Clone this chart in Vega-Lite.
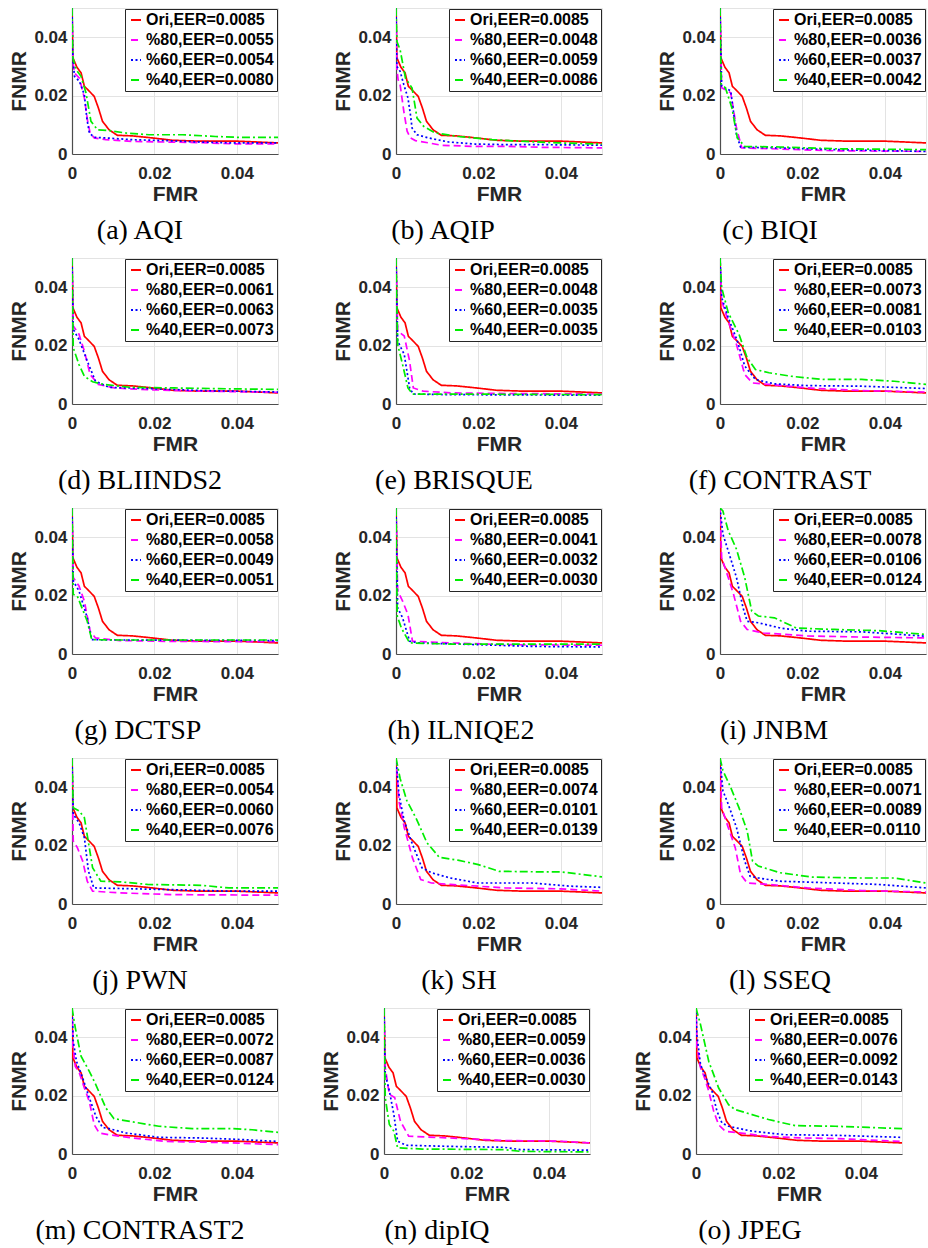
{"$schema":"https://vega.github.io/schema/vega-lite/v6.json","padding":{"left":8,"top":7,"right":2,"bottom":2},"background":"white",
"data":{"values":[
{"p":"all","s":"Ori,EER=0.0085","x":0,"y":0.05},{"p":"all","s":"Ori,EER=0.0085","x":0.0002,"y":0.033},{"p":"all","s":"Ori,EER=0.0085","x":0.0012,"y":0.0297},{"p":"all","s":"Ori,EER=0.0085","x":0.0022,"y":0.0278},{"p":"all","s":"Ori,EER=0.0085","x":0.003,"y":0.0232},{"p":"all","s":"Ori,EER=0.0085","x":0.0042,"y":0.0215},{"p":"all","s":"Ori,EER=0.0085","x":0.0054,"y":0.0197},{"p":"all","s":"Ori,EER=0.0085","x":0.0064,"y":0.0158},{"p":"all","s":"Ori,EER=0.0085","x":0.0074,"y":0.0112},{"p":"all","s":"Ori,EER=0.0085","x":0.009,"y":0.0083},{"p":"all","s":"Ori,EER=0.0085","x":0.011,"y":0.0064},{"p":"all","s":"Ori,EER=0.0085","x":0.0147,"y":0.0062},{"p":"all","s":"Ori,EER=0.0085","x":0.0195,"y":0.0055},{"p":"all","s":"Ori,EER=0.0085","x":0.0244,"y":0.0047},{"p":"all","s":"Ori,EER=0.0085","x":0.0308,"y":0.0044},{"p":"all","s":"Ori,EER=0.0085","x":0.04,"y":0.0044},{"p":"all","s":"Ori,EER=0.0085","x":0.05,"y":0.0038},

{"p":"a","s":"%80,EER=0.0055","x":0,"y":0.05},{"p":"a","s":"%80,EER=0.0055","x":0.0002,"y":0.0317},{"p":"a","s":"%80,EER=0.0055","x":0.0006,"y":0.0277},{"p":"a","s":"%80,EER=0.0055","x":0.0018,"y":0.026},{"p":"a","s":"%80,EER=0.0055","x":0.003,"y":0.0192},{"p":"a","s":"%80,EER=0.0055","x":0.0038,"y":0.0112},{"p":"a","s":"%80,EER=0.0055","x":0.0044,"y":0.0072},{"p":"a","s":"%80,EER=0.0055","x":0.0054,"y":0.0055},{"p":"a","s":"%80,EER=0.0055","x":0.0082,"y":0.0049},{"p":"a","s":"%80,EER=0.0055","x":0.0147,"y":0.0043},{"p":"a","s":"%80,EER=0.0055","x":0.0227,"y":0.0041},{"p":"a","s":"%80,EER=0.0055","x":0.031,"y":0.0039},{"p":"a","s":"%80,EER=0.0055","x":0.039,"y":0.0035},{"p":"a","s":"%80,EER=0.0055","x":0.05,"y":0.0035},
{"p":"a","s":"%60,EER=0.0054","x":0,"y":0.05},{"p":"a","s":"%60,EER=0.0054","x":0.0002,"y":0.033},{"p":"a","s":"%60,EER=0.0054","x":0.0006,"y":0.0266},{"p":"a","s":"%60,EER=0.0054","x":0.0018,"y":0.0249},{"p":"a","s":"%60,EER=0.0054","x":0.003,"y":0.0203},{"p":"a","s":"%60,EER=0.0054","x":0.0036,"y":0.0123},{"p":"a","s":"%60,EER=0.0054","x":0.0042,"y":0.0072},{"p":"a","s":"%60,EER=0.0054","x":0.0054,"y":0.0057},{"p":"a","s":"%60,EER=0.0054","x":0.0082,"y":0.0055},{"p":"a","s":"%60,EER=0.0054","x":0.0147,"y":0.0049},{"p":"a","s":"%60,EER=0.0054","x":0.0227,"y":0.0046},{"p":"a","s":"%60,EER=0.0054","x":0.031,"y":0.0041},{"p":"a","s":"%60,EER=0.0054","x":0.039,"y":0.0038},{"p":"a","s":"%60,EER=0.0054","x":0.05,"y":0.0038},
{"p":"a","s":"%40,EER=0.0080","x":0,"y":0.05},{"p":"a","s":"%40,EER=0.0080","x":0.0002,"y":0.033},{"p":"a","s":"%40,EER=0.0080","x":0.001,"y":0.0289},{"p":"a","s":"%40,EER=0.0080","x":0.0022,"y":0.0266},{"p":"a","s":"%40,EER=0.0080","x":0.0034,"y":0.0209},{"p":"a","s":"%40,EER=0.0080","x":0.0046,"y":0.0112},{"p":"a","s":"%40,EER=0.0080","x":0.0062,"y":0.0083},{"p":"a","s":"%40,EER=0.0080","x":0.009,"y":0.008},{"p":"a","s":"%40,EER=0.0080","x":0.013,"y":0.0072},{"p":"a","s":"%40,EER=0.0080","x":0.0187,"y":0.0066},{"p":"a","s":"%40,EER=0.0080","x":0.0268,"y":0.0066},{"p":"a","s":"%40,EER=0.0080","x":0.0348,"y":0.006},{"p":"a","s":"%40,EER=0.0080","x":0.0405,"y":0.0057},{"p":"a","s":"%40,EER=0.0080","x":0.05,"y":0.0057},

{"p":"b","s":"%80,EER=0.0048","x":0,"y":0.05},{"p":"b","s":"%80,EER=0.0048","x":0.0002,"y":0.0295},{"p":"b","s":"%80,EER=0.0048","x":0.0005,"y":0.0255},{"p":"b","s":"%80,EER=0.0048","x":0.001,"y":0.0237},{"p":"b","s":"%80,EER=0.0048","x":0.0019,"y":0.0146},{"p":"b","s":"%80,EER=0.0048","x":0.0027,"y":0.0078},{"p":"b","s":"%80,EER=0.0048","x":0.0035,"y":0.0055},{"p":"b","s":"%80,EER=0.0048","x":0.0047,"y":0.0046},{"p":"b","s":"%80,EER=0.0048","x":0.0079,"y":0.0038},{"p":"b","s":"%80,EER=0.0048","x":0.011,"y":0.003},{"p":"b","s":"%80,EER=0.0048","x":0.019,"y":0.0026},{"p":"b","s":"%80,EER=0.0048","x":0.0273,"y":0.0026},{"p":"b","s":"%80,EER=0.0048","x":0.0354,"y":0.0023},{"p":"b","s":"%80,EER=0.0048","x":0.05,"y":0.0021},
{"p":"b","s":"%60,EER=0.0059","x":0,"y":0.05},{"p":"b","s":"%60,EER=0.0059","x":0.0002,"y":0.03},{"p":"b","s":"%60,EER=0.0059","x":0.001,"y":0.0283},{"p":"b","s":"%60,EER=0.0059","x":0.0019,"y":0.0237},{"p":"b","s":"%60,EER=0.0059","x":0.0029,"y":0.0192},{"p":"b","s":"%60,EER=0.0059","x":0.0035,"y":0.0135},{"p":"b","s":"%60,EER=0.0059","x":0.0039,"y":0.0089},{"p":"b","s":"%60,EER=0.0059","x":0.0051,"y":0.0066},{"p":"b","s":"%60,EER=0.0059","x":0.0079,"y":0.0055},{"p":"b","s":"%60,EER=0.0059","x":0.0128,"y":0.0041},{"p":"b","s":"%60,EER=0.0059","x":0.0193,"y":0.0034},{"p":"b","s":"%60,EER=0.0059","x":0.0273,"y":0.0032},{"p":"b","s":"%60,EER=0.0059","x":0.0354,"y":0.0032},{"p":"b","s":"%60,EER=0.0059","x":0.05,"y":0.003},
{"p":"b","s":"%40,EER=0.0086","x":0,"y":0.05},{"p":"b","s":"%40,EER=0.0086","x":0.0002,"y":0.0386},{"p":"b","s":"%40,EER=0.0086","x":0.001,"y":0.0357},{"p":"b","s":"%40,EER=0.0086","x":0.0023,"y":0.026},{"p":"b","s":"%40,EER=0.0086","x":0.0039,"y":0.0226},{"p":"b","s":"%40,EER=0.0086","x":0.0051,"y":0.0123},{"p":"b","s":"%40,EER=0.0086","x":0.0067,"y":0.0095},{"p":"b","s":"%40,EER=0.0086","x":0.0095,"y":0.0072},{"p":"b","s":"%40,EER=0.0086","x":0.0152,"y":0.006},{"p":"b","s":"%40,EER=0.0086","x":0.0233,"y":0.0049},{"p":"b","s":"%40,EER=0.0086","x":0.0314,"y":0.0043},{"p":"b","s":"%40,EER=0.0086","x":0.0395,"y":0.0038},{"p":"b","s":"%40,EER=0.0086","x":0.05,"y":0.0034},

{"p":"c","s":"%80,EER=0.0036","x":0,"y":0.05},{"p":"c","s":"%80,EER=0.0036","x":0.0004,"y":0.0227},{"p":"c","s":"%80,EER=0.0036","x":0.0026,"y":0.021},{"p":"c","s":"%80,EER=0.0036","x":0.004,"y":0.0089},{"p":"c","s":"%80,EER=0.0036","x":0.0053,"y":0.0021},{"p":"c","s":"%80,EER=0.0036","x":0.0146,"y":0.0017},{"p":"c","s":"%80,EER=0.0036","x":0.0278,"y":0.0011},{"p":"c","s":"%80,EER=0.0036","x":0.05,"y":0.0009},
{"p":"c","s":"%60,EER=0.0037","x":0,"y":0.05},{"p":"c","s":"%60,EER=0.0037","x":0.0004,"y":0.0233},{"p":"c","s":"%60,EER=0.0037","x":0.0026,"y":0.0216},{"p":"c","s":"%60,EER=0.0037","x":0.004,"y":0.0067},{"p":"c","s":"%60,EER=0.0037","x":0.005,"y":0.0023},{"p":"c","s":"%60,EER=0.0037","x":0.0146,"y":0.0021},{"p":"c","s":"%60,EER=0.0037","x":0.0278,"y":0.0015},{"p":"c","s":"%60,EER=0.0037","x":0.05,"y":0.0009},
{"p":"c","s":"%40,EER=0.0042","x":0,"y":0.05},{"p":"c","s":"%40,EER=0.0042","x":0.0003,"y":0.0239},{"p":"c","s":"%40,EER=0.0042","x":0.0013,"y":0.0227},{"p":"c","s":"%40,EER=0.0042","x":0.0029,"y":0.0158},{"p":"c","s":"%40,EER=0.0042","x":0.0042,"y":0.0055},{"p":"c","s":"%40,EER=0.0042","x":0.006,"y":0.0026},{"p":"c","s":"%40,EER=0.0042","x":0.0146,"y":0.0024},{"p":"c","s":"%40,EER=0.0042","x":0.0278,"y":0.0018},{"p":"c","s":"%40,EER=0.0042","x":0.05,"y":0.0015},

{"p":"d","s":"%80,EER=0.0061","x":0,"y":0.05},{"p":"d","s":"%80,EER=0.0061","x":0.0003,"y":0.0267},{"p":"d","s":"%80,EER=0.0061","x":0.0017,"y":0.0239},{"p":"d","s":"%80,EER=0.0061","x":0.003,"y":0.0181},{"p":"d","s":"%80,EER=0.0061","x":0.0044,"y":0.0101},{"p":"d","s":"%80,EER=0.0061","x":0.0064,"y":0.0067},{"p":"d","s":"%80,EER=0.0061","x":0.0103,"y":0.0055},{"p":"d","s":"%80,EER=0.0061","x":0.0183,"y":0.0049},{"p":"d","s":"%80,EER=0.0061","x":0.0315,"y":0.0044},{"p":"d","s":"%80,EER=0.0061","x":0.05,"y":0.004},
{"p":"d","s":"%60,EER=0.0063","x":0,"y":0.05},{"p":"d","s":"%60,EER=0.0063","x":0.0003,"y":0.0256},{"p":"d","s":"%60,EER=0.0063","x":0.0017,"y":0.0221},{"p":"d","s":"%60,EER=0.0063","x":0.0037,"y":0.0147},{"p":"d","s":"%60,EER=0.0063","x":0.0057,"y":0.0078},{"p":"d","s":"%60,EER=0.0063","x":0.009,"y":0.0057},{"p":"d","s":"%60,EER=0.0063","x":0.0183,"y":0.0053},{"p":"d","s":"%60,EER=0.0063","x":0.0315,"y":0.0046},{"p":"d","s":"%60,EER=0.0063","x":0.05,"y":0.0041},
{"p":"d","s":"%40,EER=0.0073","x":0,"y":0.05},{"p":"d","s":"%40,EER=0.0073","x":0.0003,"y":0.0193},{"p":"d","s":"%40,EER=0.0073","x":0.0017,"y":0.0135},{"p":"d","s":"%40,EER=0.0073","x":0.003,"y":0.0095},{"p":"d","s":"%40,EER=0.0073","x":0.005,"y":0.0076},{"p":"d","s":"%40,EER=0.0073","x":0.0077,"y":0.0067},{"p":"d","s":"%40,EER=0.0073","x":0.0143,"y":0.0057},{"p":"d","s":"%40,EER=0.0073","x":0.0249,"y":0.0055},{"p":"d","s":"%40,EER=0.0073","x":0.0381,"y":0.0052},{"p":"d","s":"%40,EER=0.0073","x":0.05,"y":0.005},

{"p":"e","s":"%80,EER=0.0048","x":0,"y":0.05},{"p":"e","s":"%80,EER=0.0048","x":0.0004,"y":0.025},{"p":"e","s":"%80,EER=0.0048","x":0.002,"y":0.0233},{"p":"e","s":"%80,EER=0.0048","x":0.0033,"y":0.0147},{"p":"e","s":"%80,EER=0.0048","x":0.0042,"y":0.0055},{"p":"e","s":"%80,EER=0.0048","x":0.0066,"y":0.0044},{"p":"e","s":"%80,EER=0.0048","x":0.0132,"y":0.0038},{"p":"e","s":"%80,EER=0.0048","x":0.0265,"y":0.0036},{"p":"e","s":"%80,EER=0.0048","x":0.05,"y":0.0034},
{"p":"e","s":"%60,EER=0.0035","x":0,"y":0.05},{"p":"e","s":"%60,EER=0.0035","x":0.0004,"y":0.0216},{"p":"e","s":"%60,EER=0.0035","x":0.002,"y":0.017},{"p":"e","s":"%60,EER=0.0035","x":0.0033,"y":0.0055},{"p":"e","s":"%60,EER=0.0035","x":0.0042,"y":0.0034},{"p":"e","s":"%60,EER=0.0035","x":0.0132,"y":0.0032},{"p":"e","s":"%60,EER=0.0035","x":0.05,"y":0.003},
{"p":"e","s":"%40,EER=0.0035","x":0,"y":0.05},{"p":"e","s":"%40,EER=0.0035","x":0.0004,"y":0.0204},{"p":"e","s":"%40,EER=0.0035","x":0.0016,"y":0.0135},{"p":"e","s":"%40,EER=0.0035","x":0.0029,"y":0.0055},{"p":"e","s":"%40,EER=0.0035","x":0.004,"y":0.0034},{"p":"e","s":"%40,EER=0.0035","x":0.0132,"y":0.0034},{"p":"e","s":"%40,EER=0.0035","x":0.05,"y":0.0032},

{"p":"f","s":"%80,EER=0.0073","x":0,"y":0.05},{"p":"f","s":"%80,EER=0.0073","x":0.0004,"y":0.0353},{"p":"f","s":"%80,EER=0.0073","x":0.002,"y":0.0284},{"p":"f","s":"%80,EER=0.0073","x":0.004,"y":0.0204},{"p":"f","s":"%80,EER=0.0073","x":0.006,"y":0.0101},{"p":"f","s":"%80,EER=0.0073","x":0.0079,"y":0.0072},{"p":"f","s":"%80,EER=0.0073","x":0.0119,"y":0.0067},{"p":"f","s":"%80,EER=0.0073","x":0.0212,"y":0.0055},{"p":"f","s":"%80,EER=0.0073","x":0.0344,"y":0.0046},{"p":"f","s":"%80,EER=0.0073","x":0.05,"y":0.0041},
{"p":"f","s":"%60,EER=0.0081","x":0,"y":0.05},{"p":"f","s":"%60,EER=0.0081","x":0.0004,"y":0.0365},{"p":"f","s":"%60,EER=0.0081","x":0.002,"y":0.0296},{"p":"f","s":"%60,EER=0.0081","x":0.0042,"y":0.0216},{"p":"f","s":"%60,EER=0.0081","x":0.006,"y":0.013},{"p":"f","s":"%60,EER=0.0081","x":0.0086,"y":0.0084},{"p":"f","s":"%60,EER=0.0081","x":0.0132,"y":0.0069},{"p":"f","s":"%60,EER=0.0081","x":0.0212,"y":0.0063},{"p":"f","s":"%60,EER=0.0081","x":0.0344,"y":0.0061},{"p":"f","s":"%60,EER=0.0081","x":0.05,"y":0.0053},
{"p":"f","s":"%40,EER=0.0103","x":0,"y":0.05},{"p":"f","s":"%40,EER=0.0103","x":0.0004,"y":0.0399},{"p":"f","s":"%40,EER=0.0103","x":0.002,"y":0.0313},{"p":"f","s":"%40,EER=0.0103","x":0.0046,"y":0.0239},{"p":"f","s":"%40,EER=0.0103","x":0.0066,"y":0.0158},{"p":"f","s":"%40,EER=0.0103","x":0.0086,"y":0.0118},{"p":"f","s":"%40,EER=0.0103","x":0.0119,"y":0.0107},{"p":"f","s":"%40,EER=0.0103","x":0.0172,"y":0.0095},{"p":"f","s":"%40,EER=0.0103","x":0.0251,"y":0.0084},{"p":"f","s":"%40,EER=0.0103","x":0.0344,"y":0.0084},{"p":"f","s":"%40,EER=0.0103","x":0.0423,"y":0.0078},{"p":"f","s":"%40,EER=0.0103","x":0.05,"y":0.0067},

{"p":"g","s":"%80,EER=0.0058","x":0,"y":0.05},{"p":"g","s":"%80,EER=0.0058","x":0.0003,"y":0.0262},{"p":"g","s":"%80,EER=0.0058","x":0.0017,"y":0.0233},{"p":"g","s":"%80,EER=0.0058","x":0.003,"y":0.0181},{"p":"g","s":"%80,EER=0.0058","x":0.0044,"y":0.0078},{"p":"g","s":"%80,EER=0.0058","x":0.0057,"y":0.0055},{"p":"g","s":"%80,EER=0.0058","x":0.0116,"y":0.0046},{"p":"g","s":"%80,EER=0.0058","x":0.0249,"y":0.0043},{"p":"g","s":"%80,EER=0.0058","x":0.05,"y":0.0042},
{"p":"g","s":"%60,EER=0.0049","x":0,"y":0.05},{"p":"g","s":"%60,EER=0.0049","x":0.0003,"y":0.025},{"p":"g","s":"%60,EER=0.0049","x":0.0017,"y":0.0216},{"p":"g","s":"%60,EER=0.0049","x":0.0037,"y":0.0124},{"p":"g","s":"%60,EER=0.0049","x":0.0048,"y":0.0049},{"p":"g","s":"%60,EER=0.0049","x":0.0116,"y":0.0048},{"p":"g","s":"%60,EER=0.0049","x":0.05,"y":0.0046},
{"p":"g","s":"%40,EER=0.0051","x":0,"y":0.05},{"p":"g","s":"%40,EER=0.0051","x":0.0003,"y":0.0204},{"p":"g","s":"%40,EER=0.0051","x":0.0013,"y":0.0198},{"p":"g","s":"%40,EER=0.0051","x":0.0037,"y":0.0112},{"p":"g","s":"%40,EER=0.0051","x":0.0048,"y":0.0049},{"p":"g","s":"%40,EER=0.0051","x":0.0116,"y":0.0048},{"p":"g","s":"%40,EER=0.0051","x":0.05,"y":0.0048},

{"p":"h","s":"%80,EER=0.0041","x":0,"y":0.05},{"p":"h","s":"%80,EER=0.0041","x":0.0004,"y":0.0216},{"p":"h","s":"%80,EER=0.0041","x":0.0016,"y":0.0181},{"p":"h","s":"%80,EER=0.0041","x":0.0029,"y":0.0135},{"p":"h","s":"%80,EER=0.0041","x":0.004,"y":0.0044},{"p":"h","s":"%80,EER=0.0041","x":0.0132,"y":0.0038},{"p":"h","s":"%80,EER=0.0041","x":0.0265,"y":0.0032},{"p":"h","s":"%80,EER=0.0041","x":0.05,"y":0.003},
{"p":"h","s":"%60,EER=0.0032","x":0,"y":0.05},{"p":"h","s":"%60,EER=0.0032","x":0.0004,"y":0.0158},{"p":"h","s":"%60,EER=0.0032","x":0.0016,"y":0.0124},{"p":"h","s":"%60,EER=0.0032","x":0.0033,"y":0.0044},{"p":"h","s":"%60,EER=0.0032","x":0.0053,"y":0.0038},{"p":"h","s":"%60,EER=0.0032","x":0.0198,"y":0.0032},{"p":"h","s":"%60,EER=0.0032","x":0.033,"y":0.0026},{"p":"h","s":"%60,EER=0.0032","x":0.05,"y":0.0024},
{"p":"h","s":"%40,EER=0.0030","x":0,"y":0.05},{"p":"h","s":"%40,EER=0.0030","x":0.0003,"y":0.013},{"p":"h","s":"%40,EER=0.0030","x":0.0013,"y":0.0089},{"p":"h","s":"%40,EER=0.0030","x":0.0033,"y":0.0038},{"p":"h","s":"%40,EER=0.0030","x":0.0132,"y":0.0034},{"p":"h","s":"%40,EER=0.0030","x":0.05,"y":0.0034},

{"p":"i","s":"%80,EER=0.0078","x":0,"y":0.05},{"p":"i","s":"%80,EER=0.0078","x":0.0004,"y":0.033},{"p":"i","s":"%80,EER=0.0078","x":0.002,"y":0.0262},{"p":"i","s":"%80,EER=0.0078","x":0.0033,"y":0.0204},{"p":"i","s":"%80,EER=0.0078","x":0.005,"y":0.0112},{"p":"i","s":"%80,EER=0.0078","x":0.0066,"y":0.0084},{"p":"i","s":"%80,EER=0.0078","x":0.0106,"y":0.0072},{"p":"i","s":"%80,EER=0.0078","x":0.0212,"y":0.0062},{"p":"i","s":"%80,EER=0.0078","x":0.0344,"y":0.0058},{"p":"i","s":"%80,EER=0.0078","x":0.05,"y":0.0055},
{"p":"i","s":"%60,EER=0.0106","x":0,"y":0.05},{"p":"i","s":"%60,EER=0.0106","x":0.0007,"y":0.041},{"p":"i","s":"%60,EER=0.0106","x":0.002,"y":0.0353},{"p":"i","s":"%60,EER=0.0106","x":0.004,"y":0.0262},{"p":"i","s":"%60,EER=0.0106","x":0.0056,"y":0.0158},{"p":"i","s":"%60,EER=0.0106","x":0.0066,"y":0.0112},{"p":"i","s":"%60,EER=0.0106","x":0.0093,"y":0.0107},{"p":"i","s":"%60,EER=0.0106","x":0.0146,"y":0.0089},{"p":"i","s":"%60,EER=0.0106","x":0.0212,"y":0.0078},{"p":"i","s":"%60,EER=0.0106","x":0.0344,"y":0.0076},{"p":"i","s":"%60,EER=0.0106","x":0.05,"y":0.0061},
{"p":"i","s":"%40,EER=0.0124","x":0,"y":0.05},{"p":"i","s":"%40,EER=0.0124","x":0.0007,"y":0.049},{"p":"i","s":"%40,EER=0.0124","x":0.002,"y":0.0422},{"p":"i","s":"%40,EER=0.0124","x":0.004,"y":0.0359},{"p":"i","s":"%40,EER=0.0124","x":0.006,"y":0.0262},{"p":"i","s":"%40,EER=0.0124","x":0.0077,"y":0.0147},{"p":"i","s":"%40,EER=0.0124","x":0.0093,"y":0.013},{"p":"i","s":"%40,EER=0.0124","x":0.0132,"y":0.0124},{"p":"i","s":"%40,EER=0.0124","x":0.0185,"y":0.0089},{"p":"i","s":"%40,EER=0.0124","x":0.0278,"y":0.0084},{"p":"i","s":"%40,EER=0.0124","x":0.0384,"y":0.008},{"p":"i","s":"%40,EER=0.0124","x":0.05,"y":0.0067},

{"p":"j","s":"%80,EER=0.0054","x":0,"y":0.05},{"p":"j","s":"%80,EER=0.0054","x":0.0003,"y":0.0216},{"p":"j","s":"%80,EER=0.0054","x":0.0013,"y":0.0193},{"p":"j","s":"%80,EER=0.0054","x":0.0026,"y":0.0147},{"p":"j","s":"%80,EER=0.0054","x":0.0037,"y":0.0078},{"p":"j","s":"%80,EER=0.0054","x":0.005,"y":0.0044},{"p":"j","s":"%80,EER=0.0054","x":0.0116,"y":0.0038},{"p":"j","s":"%80,EER=0.0054","x":0.0249,"y":0.0032},{"p":"j","s":"%80,EER=0.0054","x":0.05,"y":0.003},
{"p":"j","s":"%60,EER=0.0060","x":0,"y":0.05},{"p":"j","s":"%60,EER=0.0060","x":0.0003,"y":0.0307},{"p":"j","s":"%60,EER=0.0060","x":0.0017,"y":0.0279},{"p":"j","s":"%60,EER=0.0060","x":0.003,"y":0.0227},{"p":"j","s":"%60,EER=0.0060","x":0.004,"y":0.0112},{"p":"j","s":"%60,EER=0.0060","x":0.0053,"y":0.0055},{"p":"j","s":"%60,EER=0.0060","x":0.0116,"y":0.0053},{"p":"j","s":"%60,EER=0.0060","x":0.0249,"y":0.0049},{"p":"j","s":"%60,EER=0.0060","x":0.0381,"y":0.0044},{"p":"j","s":"%60,EER=0.0060","x":0.05,"y":0.0044},
{"p":"j","s":"%40,EER=0.0076","x":0,"y":0.05},{"p":"j","s":"%40,EER=0.0076","x":0.0003,"y":0.033},{"p":"j","s":"%40,EER=0.0076","x":0.0017,"y":0.0319},{"p":"j","s":"%40,EER=0.0076","x":0.003,"y":0.0296},{"p":"j","s":"%40,EER=0.0076","x":0.005,"y":0.0124},{"p":"j","s":"%40,EER=0.0076","x":0.007,"y":0.0078},{"p":"j","s":"%40,EER=0.0076","x":0.0116,"y":0.0076},{"p":"j","s":"%40,EER=0.0076","x":0.0183,"y":0.0067},{"p":"j","s":"%40,EER=0.0076","x":0.0315,"y":0.0064},{"p":"j","s":"%40,EER=0.0076","x":0.0381,"y":0.0055},{"p":"j","s":"%40,EER=0.0076","x":0.05,"y":0.0055},

{"p":"k","s":"%80,EER=0.0074","x":0,"y":0.05},{"p":"k","s":"%80,EER=0.0074","x":0.0007,"y":0.0353},{"p":"k","s":"%80,EER=0.0074","x":0.002,"y":0.0262},{"p":"k","s":"%80,EER=0.0074","x":0.004,"y":0.0158},{"p":"k","s":"%80,EER=0.0074","x":0.006,"y":0.0084},{"p":"k","s":"%80,EER=0.0074","x":0.0086,"y":0.0072},{"p":"k","s":"%80,EER=0.0074","x":0.0132,"y":0.0067},{"p":"k","s":"%80,EER=0.0074","x":0.0265,"y":0.0055},{"p":"k","s":"%80,EER=0.0074","x":0.0397,"y":0.0052},{"p":"k","s":"%80,EER=0.0074","x":0.05,"y":0.0044},
{"p":"k","s":"%60,EER=0.0101","x":0,"y":0.05},{"p":"k","s":"%60,EER=0.0101","x":0.0007,"y":0.0376},{"p":"k","s":"%60,EER=0.0101","x":0.002,"y":0.0284},{"p":"k","s":"%60,EER=0.0101","x":0.004,"y":0.0204},{"p":"k","s":"%60,EER=0.0101","x":0.0063,"y":0.0124},{"p":"k","s":"%60,EER=0.0101","x":0.0086,"y":0.0107},{"p":"k","s":"%60,EER=0.0101","x":0.0132,"y":0.0089},{"p":"k","s":"%60,EER=0.0101","x":0.0198,"y":0.0072},{"p":"k","s":"%60,EER=0.0101","x":0.033,"y":0.0072},{"p":"k","s":"%60,EER=0.0101","x":0.0423,"y":0.0061},{"p":"k","s":"%60,EER=0.0101","x":0.05,"y":0.0057},
{"p":"k","s":"%40,EER=0.0139","x":0,"y":0.05},{"p":"k","s":"%40,EER=0.0139","x":0.001,"y":0.043},{"p":"k","s":"%40,EER=0.0139","x":0.0026,"y":0.0355},{"p":"k","s":"%40,EER=0.0139","x":0.005,"y":0.029},{"p":"k","s":"%40,EER=0.0139","x":0.0075,"y":0.021},{"p":"k","s":"%40,EER=0.0139","x":0.0105,"y":0.016},{"p":"k","s":"%40,EER=0.0139","x":0.015,"y":0.015},{"p":"k","s":"%40,EER=0.0139","x":0.02,"y":0.0135},{"p":"k","s":"%40,EER=0.0139","x":0.025,"y":0.0112},{"p":"k","s":"%40,EER=0.0139","x":0.035,"y":0.011},{"p":"k","s":"%40,EER=0.0139","x":0.04,"y":0.011},{"p":"k","s":"%40,EER=0.0139","x":0.05,"y":0.0093},

{"p":"l","s":"%80,EER=0.0071","x":0,"y":0.05},{"p":"l","s":"%80,EER=0.0071","x":0.0004,"y":0.033},{"p":"l","s":"%80,EER=0.0071","x":0.002,"y":0.0262},{"p":"l","s":"%80,EER=0.0071","x":0.0037,"y":0.0193},{"p":"l","s":"%80,EER=0.0071","x":0.005,"y":0.0101},{"p":"l","s":"%80,EER=0.0071","x":0.0066,"y":0.0072},{"p":"l","s":"%80,EER=0.0071","x":0.0119,"y":0.0067},{"p":"l","s":"%80,EER=0.0071","x":0.0212,"y":0.0055},{"p":"l","s":"%80,EER=0.0071","x":0.0344,"y":0.0046},{"p":"l","s":"%80,EER=0.0071","x":0.05,"y":0.0041},
{"p":"l","s":"%60,EER=0.0089","x":0,"y":0.05},{"p":"l","s":"%60,EER=0.0089","x":0.0007,"y":0.0388},{"p":"l","s":"%60,EER=0.0089","x":0.002,"y":0.0342},{"p":"l","s":"%60,EER=0.0089","x":0.004,"y":0.0262},{"p":"l","s":"%60,EER=0.0089","x":0.006,"y":0.0147},{"p":"l","s":"%60,EER=0.0089","x":0.0073,"y":0.0095},{"p":"l","s":"%60,EER=0.0089","x":0.0093,"y":0.0089},{"p":"l","s":"%60,EER=0.0089","x":0.0146,"y":0.0078},{"p":"l","s":"%60,EER=0.0089","x":0.0278,"y":0.0072},{"p":"l","s":"%60,EER=0.0089","x":0.0384,"y":0.0067},{"p":"l","s":"%60,EER=0.0089","x":0.05,"y":0.0055},
{"p":"l","s":"%40,EER=0.0110","x":0,"y":0.05},{"p":"l","s":"%40,EER=0.0110","x":0.0007,"y":0.0457},{"p":"l","s":"%40,EER=0.0110","x":0.0026,"y":0.0399},{"p":"l","s":"%40,EER=0.0110","x":0.0046,"y":0.033},{"p":"l","s":"%40,EER=0.0110","x":0.0066,"y":0.025},{"p":"l","s":"%40,EER=0.0110","x":0.0079,"y":0.0147},{"p":"l","s":"%40,EER=0.0110","x":0.0093,"y":0.013},{"p":"l","s":"%40,EER=0.0110","x":0.0146,"y":0.0107},{"p":"l","s":"%40,EER=0.0110","x":0.0225,"y":0.0092},{"p":"l","s":"%40,EER=0.0110","x":0.0344,"y":0.0089},{"p":"l","s":"%40,EER=0.0110","x":0.0423,"y":0.0089},{"p":"l","s":"%40,EER=0.0110","x":0.05,"y":0.0072},

{"p":"m","s":"%80,EER=0.0072","x":0,"y":0.05},{"p":"m","s":"%80,EER=0.0072","x":0.0002,"y":0.0374},{"p":"m","s":"%80,EER=0.0072","x":0.0008,"y":0.03},{"p":"m","s":"%80,EER=0.0072","x":0.0018,"y":0.0277},{"p":"m","s":"%80,EER=0.0072","x":0.003,"y":0.0226},{"p":"m","s":"%80,EER=0.0072","x":0.0042,"y":0.018},{"p":"m","s":"%80,EER=0.0072","x":0.0054,"y":0.01},{"p":"m","s":"%80,EER=0.0072","x":0.0066,"y":0.0072},{"p":"m","s":"%80,EER=0.0072","x":0.009,"y":0.0066},{"p":"m","s":"%80,EER=0.0072","x":0.0147,"y":0.0055},{"p":"m","s":"%80,EER=0.0072","x":0.0227,"y":0.0043},{"p":"m","s":"%80,EER=0.0072","x":0.0308,"y":0.0041},{"p":"m","s":"%80,EER=0.0072","x":0.0389,"y":0.0038},{"p":"m","s":"%80,EER=0.0072","x":0.05,"y":0.0032},
{"p":"m","s":"%60,EER=0.0087","x":0,"y":0.05},{"p":"m","s":"%60,EER=0.0087","x":0.0003,"y":0.0386},{"p":"m","s":"%60,EER=0.0087","x":0.0011,"y":0.0317},{"p":"m","s":"%60,EER=0.0087","x":0.0026,"y":0.026},{"p":"m","s":"%60,EER=0.0087","x":0.0042,"y":0.0192},{"p":"m","s":"%60,EER=0.0087","x":0.0058,"y":0.0129},{"p":"m","s":"%60,EER=0.0087","x":0.0074,"y":0.0091},{"p":"m","s":"%60,EER=0.0087","x":0.009,"y":0.0087},{"p":"m","s":"%60,EER=0.0087","x":0.0131,"y":0.0072},{"p":"m","s":"%60,EER=0.0087","x":0.0211,"y":0.0057},{"p":"m","s":"%60,EER=0.0087","x":0.0308,"y":0.0055},{"p":"m","s":"%60,EER=0.0087","x":0.0389,"y":0.0051},{"p":"m","s":"%60,EER=0.0087","x":0.05,"y":0.0043},
{"p":"m","s":"%40,EER=0.0124","x":0,"y":0.05},{"p":"m","s":"%40,EER=0.0124","x":0.0008,"y":0.0432},{"p":"m","s":"%40,EER=0.0124","x":0.0022,"y":0.0335},{"p":"m","s":"%40,EER=0.0124","x":0.0042,"y":0.0283},{"p":"m","s":"%40,EER=0.0124","x":0.0058,"y":0.0237},{"p":"m","s":"%40,EER=0.0124","x":0.0082,"y":0.0158},{"p":"m","s":"%40,EER=0.0124","x":0.0102,"y":0.0121},{"p":"m","s":"%40,EER=0.0124","x":0.0147,"y":0.011},{"p":"m","s":"%40,EER=0.0124","x":0.0211,"y":0.0095},{"p":"m","s":"%40,EER=0.0124","x":0.0292,"y":0.0087},{"p":"m","s":"%40,EER=0.0124","x":0.0389,"y":0.0087},{"p":"m","s":"%40,EER=0.0124","x":0.0437,"y":0.0083},{"p":"m","s":"%40,EER=0.0124","x":0.05,"y":0.0074},

{"p":"n","s":"%80,EER=0.0059","x":0,"y":0.05},{"p":"n","s":"%80,EER=0.0059","x":0.0003,"y":0.0296},{"p":"n","s":"%80,EER=0.0059","x":0.0013,"y":0.0204},{"p":"n","s":"%80,EER=0.0059","x":0.0026,"y":0.0193},{"p":"n","s":"%80,EER=0.0059","x":0.004,"y":0.0112},{"p":"n","s":"%80,EER=0.0059","x":0.006,"y":0.0061},{"p":"n","s":"%80,EER=0.0059","x":0.0159,"y":0.0055},{"p":"n","s":"%80,EER=0.0059","x":0.0291,"y":0.0046},{"p":"n","s":"%80,EER=0.0059","x":0.0423,"y":0.0044},{"p":"n","s":"%80,EER=0.0059","x":0.05,"y":0.0038},
{"p":"n","s":"%60,EER=0.0036","x":0,"y":0.05},{"p":"n","s":"%60,EER=0.0036","x":0.0003,"y":0.0273},{"p":"n","s":"%60,EER=0.0036","x":0.0013,"y":0.0216},{"p":"n","s":"%60,EER=0.0036","x":0.0024,"y":0.0135},{"p":"n","s":"%60,EER=0.0036","x":0.0033,"y":0.0044},{"p":"n","s":"%60,EER=0.0036","x":0.0053,"y":0.003},{"p":"n","s":"%60,EER=0.0036","x":0.0159,"y":0.0026},{"p":"n","s":"%60,EER=0.0036","x":0.0291,"y":0.0023},{"p":"n","s":"%60,EER=0.0036","x":0.0331,"y":0.0015},{"p":"n","s":"%60,EER=0.0036","x":0.05,"y":0.0013},
{"p":"n","s":"%40,EER=0.0030","x":0,"y":0.05},{"p":"n","s":"%40,EER=0.0030","x":0.0003,"y":0.0193},{"p":"n","s":"%40,EER=0.0030","x":0.0013,"y":0.0101},{"p":"n","s":"%40,EER=0.0030","x":0.0024,"y":0.0078},{"p":"n","s":"%40,EER=0.0030","x":0.0033,"y":0.0021},{"p":"n","s":"%40,EER=0.0030","x":0.0093,"y":0.0017},{"p":"n","s":"%40,EER=0.0030","x":0.0291,"y":0.0015},{"p":"n","s":"%40,EER=0.0030","x":0.0331,"y":0.0009},{"p":"n","s":"%40,EER=0.0030","x":0.05,"y":0.0007},

{"p":"o","s":"%80,EER=0.0076","x":0,"y":0.05},{"p":"o","s":"%80,EER=0.0076","x":0.0002,"y":0.0374},{"p":"o","s":"%80,EER=0.0076","x":0.0011,"y":0.0295},{"p":"o","s":"%80,EER=0.0076","x":0.0021,"y":0.026},{"p":"o","s":"%80,EER=0.0076","x":0.0031,"y":0.0215},{"p":"o","s":"%80,EER=0.0076","x":0.0043,"y":0.0146},{"p":"o","s":"%80,EER=0.0076","x":0.0055,"y":0.01},{"p":"o","s":"%80,EER=0.0076","x":0.0071,"y":0.0078},{"p":"o","s":"%80,EER=0.0076","x":0.0095,"y":0.0074},{"p":"o","s":"%80,EER=0.0076","x":0.0176,"y":0.006},{"p":"o","s":"%80,EER=0.0076","x":0.0257,"y":0.0055},{"p":"o","s":"%80,EER=0.0076","x":0.0338,"y":0.0053},{"p":"o","s":"%80,EER=0.0076","x":0.05,"y":0.0043},
{"p":"o","s":"%60,EER=0.0092","x":0,"y":0.05},{"p":"o","s":"%60,EER=0.0092","x":0.0002,"y":0.0409},{"p":"o","s":"%60,EER=0.0092","x":0.0011,"y":0.0306},{"p":"o","s":"%60,EER=0.0092","x":0.0024,"y":0.026},{"p":"o","s":"%60,EER=0.0092","x":0.0039,"y":0.0215},{"p":"o","s":"%60,EER=0.0092","x":0.0051,"y":0.0146},{"p":"o","s":"%60,EER=0.0092","x":0.0063,"y":0.0106},{"p":"o","s":"%60,EER=0.0092","x":0.0079,"y":0.0095},{"p":"o","s":"%60,EER=0.0092","x":0.0136,"y":0.0078},{"p":"o","s":"%60,EER=0.0092","x":0.0217,"y":0.0066},{"p":"o","s":"%60,EER=0.0092","x":0.0338,"y":0.0064},{"p":"o","s":"%60,EER=0.0092","x":0.05,"y":0.0057},
{"p":"o","s":"%40,EER=0.0143","x":0,"y":0.05},{"p":"o","s":"%40,EER=0.0143","x":0.0011,"y":0.0443},{"p":"o","s":"%40,EER=0.0143","x":0.0031,"y":0.0317},{"p":"o","s":"%40,EER=0.0143","x":0.0055,"y":0.0226},{"p":"o","s":"%40,EER=0.0143","x":0.0079,"y":0.0169},{"p":"o","s":"%40,EER=0.0143","x":0.0095,"y":0.0152},{"p":"o","s":"%40,EER=0.0143","x":0.0136,"y":0.0135},{"p":"o","s":"%40,EER=0.0143","x":0.0176,"y":0.0118},{"p":"o","s":"%40,EER=0.0143","x":0.0241,"y":0.0097},{"p":"o","s":"%40,EER=0.0143","x":0.0338,"y":0.0095},{"p":"o","s":"%40,EER=0.0143","x":0.0419,"y":0.0091},{"p":"o","s":"%40,EER=0.0143","x":0.05,"y":0.0087}
]},
"spacing":250,"bounds":"flush",
"resolve":{"scale":{"color":"independent","strokeDash":"independent"},"legend":{"color":"independent","strokeDash":"independent"}},
"vconcat":[
{"hconcat":[
{"width":206,"height":146,"title":{"text":"(a) AQI","dx":-35},"transform":[{"filter":"datum.p=='a'||datum.p=='all'"}],"mark":{"type":"line","clip":true,"strokeWidth":1.7},"encoding":{"x":{"field":"x","type":"quantitative","title":"FMR","scale":{"domain":[0,0.05],"nice":false},"axis":{"values":[0,0.02,0.04],"format":"~g"}},"y":{"field":"y","type":"quantitative","title":"FNMR","scale":{"domain":[0,0.05],"nice":false},"axis":{"values":[0,0.02,0.04],"format":"~g"}},"color":{"field":"s","type":"nominal","scale":{"domain":["Ori,EER=0.0085","%80,EER=0.0055","%60,EER=0.0054","%40,EER=0.0080"],"range":["#ff0000","#ff00ff","#0000ff","#00ee00"]},"legend":{"title":null}},"strokeDash":{"field":"s","type":"nominal","scale":{"domain":["Ori,EER=0.0085","%80,EER=0.0055","%60,EER=0.0054","%40,EER=0.0080"],"range":[[1,0],[7,4],[2,2.5],[8,3,2,3]]},"legend":{"title":null}}}},
{"width":206,"height":146,"title":{"text":"(b) AQIP","dx":-56},"transform":[{"filter":"datum.p=='b'||datum.p=='all'"}],"mark":{"type":"line","clip":true,"strokeWidth":1.7},"encoding":{"x":{"field":"x","type":"quantitative","title":"FMR","scale":{"domain":[0,0.05],"nice":false},"axis":{"values":[0,0.02,0.04],"format":"~g"}},"y":{"field":"y","type":"quantitative","title":"FNMR","scale":{"domain":[0,0.05],"nice":false},"axis":{"values":[0,0.02,0.04],"format":"~g"}},"color":{"field":"s","type":"nominal","scale":{"domain":["Ori,EER=0.0085","%80,EER=0.0048","%60,EER=0.0059","%40,EER=0.0086"],"range":["#ff0000","#ff00ff","#0000ff","#00ee00"]},"legend":{"title":null}},"strokeDash":{"field":"s","type":"nominal","scale":{"domain":["Ori,EER=0.0085","%80,EER=0.0048","%60,EER=0.0059","%40,EER=0.0086"],"range":[[1,0],[7,4],[2,2.5],[8,3,2,3]]},"legend":{"title":null}}}},
{"width":206,"height":146,"title":{"text":"(c) BIQI","dx":-53},"transform":[{"filter":"datum.p=='c'||datum.p=='all'"}],"mark":{"type":"line","clip":true,"strokeWidth":1.7},"encoding":{"x":{"field":"x","type":"quantitative","title":"FMR","scale":{"domain":[0,0.05],"nice":false},"axis":{"values":[0,0.02,0.04],"format":"~g"}},"y":{"field":"y","type":"quantitative","title":"FNMR","scale":{"domain":[0,0.05],"nice":false},"axis":{"values":[0,0.02,0.04],"format":"~g"}},"color":{"field":"s","type":"nominal","scale":{"domain":["Ori,EER=0.0085","%80,EER=0.0036","%60,EER=0.0037","%40,EER=0.0042"],"range":["#ff0000","#ff00ff","#0000ff","#00ee00"]},"legend":{"title":null}},"strokeDash":{"field":"s","type":"nominal","scale":{"domain":["Ori,EER=0.0085","%80,EER=0.0036","%60,EER=0.0037","%40,EER=0.0042"],"range":[[1,0],[7,4],[2,2.5],[8,3,2,3]]},"legend":{"title":null}}}}
],"spacing":118,"bounds":"flush","resolve":{"scale":{"color":"independent","strokeDash":"independent"},"legend":{"color":"independent","strokeDash":"independent"}}},
{"hconcat":[
{"width":206,"height":146,"title":{"text":"(d) BLIINDS2","dx":-35},"transform":[{"filter":"datum.p=='d'||datum.p=='all'"}],"mark":{"type":"line","clip":true,"strokeWidth":1.7},"encoding":{"x":{"field":"x","type":"quantitative","title":"FMR","scale":{"domain":[0,0.05],"nice":false},"axis":{"values":[0,0.02,0.04],"format":"~g"}},"y":{"field":"y","type":"quantitative","title":"FNMR","scale":{"domain":[0,0.05],"nice":false},"axis":{"values":[0,0.02,0.04],"format":"~g"}},"color":{"field":"s","type":"nominal","scale":{"domain":["Ori,EER=0.0085","%80,EER=0.0061","%60,EER=0.0063","%40,EER=0.0073"],"range":["#ff0000","#ff00ff","#0000ff","#00ee00"]},"legend":{"title":null}},"strokeDash":{"field":"s","type":"nominal","scale":{"domain":["Ori,EER=0.0085","%80,EER=0.0061","%60,EER=0.0063","%40,EER=0.0073"],"range":[[1,0],[7,4],[2,2.5],[8,3,2,3]]},"legend":{"title":null}}}},
{"width":206,"height":146,"title":{"text":"(e) BRISQUE","dx":-45},"transform":[{"filter":"datum.p=='e'||datum.p=='all'"}],"mark":{"type":"line","clip":true,"strokeWidth":1.7},"encoding":{"x":{"field":"x","type":"quantitative","title":"FMR","scale":{"domain":[0,0.05],"nice":false},"axis":{"values":[0,0.02,0.04],"format":"~g"}},"y":{"field":"y","type":"quantitative","title":"FNMR","scale":{"domain":[0,0.05],"nice":false},"axis":{"values":[0,0.02,0.04],"format":"~g"}},"color":{"field":"s","type":"nominal","scale":{"domain":["Ori,EER=0.0085","%80,EER=0.0048","%60,EER=0.0035","%40,EER=0.0035"],"range":["#ff0000","#ff00ff","#0000ff","#00ee00"]},"legend":{"title":null}},"strokeDash":{"field":"s","type":"nominal","scale":{"domain":["Ori,EER=0.0085","%80,EER=0.0048","%60,EER=0.0035","%40,EER=0.0035"],"range":[[1,0],[7,4],[2,2.5],[8,3,2,3]]},"legend":{"title":null}}}},
{"width":206,"height":146,"title":{"text":"(f) CONTRAST","dx":-43},"transform":[{"filter":"datum.p=='f'||datum.p=='all'"}],"mark":{"type":"line","clip":true,"strokeWidth":1.7},"encoding":{"x":{"field":"x","type":"quantitative","title":"FMR","scale":{"domain":[0,0.05],"nice":false},"axis":{"values":[0,0.02,0.04],"format":"~g"}},"y":{"field":"y","type":"quantitative","title":"FNMR","scale":{"domain":[0,0.05],"nice":false},"axis":{"values":[0,0.02,0.04],"format":"~g"}},"color":{"field":"s","type":"nominal","scale":{"domain":["Ori,EER=0.0085","%80,EER=0.0073","%60,EER=0.0081","%40,EER=0.0103"],"range":["#ff0000","#ff00ff","#0000ff","#00ee00"]},"legend":{"title":null}},"strokeDash":{"field":"s","type":"nominal","scale":{"domain":["Ori,EER=0.0085","%80,EER=0.0073","%60,EER=0.0081","%40,EER=0.0103"],"range":[[1,0],[7,4],[2,2.5],[8,3,2,3]]},"legend":{"title":null}}}}
],"spacing":118,"bounds":"flush","resolve":{"scale":{"color":"independent","strokeDash":"independent"},"legend":{"color":"independent","strokeDash":"independent"}}},
{"hconcat":[
{"width":206,"height":146,"title":{"text":"(g) DCTSP","dx":-37},"transform":[{"filter":"datum.p=='g'||datum.p=='all'"}],"mark":{"type":"line","clip":true,"strokeWidth":1.7},"encoding":{"x":{"field":"x","type":"quantitative","title":"FMR","scale":{"domain":[0,0.05],"nice":false},"axis":{"values":[0,0.02,0.04],"format":"~g"}},"y":{"field":"y","type":"quantitative","title":"FNMR","scale":{"domain":[0,0.05],"nice":false},"axis":{"values":[0,0.02,0.04],"format":"~g"}},"color":{"field":"s","type":"nominal","scale":{"domain":["Ori,EER=0.0085","%80,EER=0.0058","%60,EER=0.0049","%40,EER=0.0051"],"range":["#ff0000","#ff00ff","#0000ff","#00ee00"]},"legend":{"title":null}},"strokeDash":{"field":"s","type":"nominal","scale":{"domain":["Ori,EER=0.0085","%80,EER=0.0058","%60,EER=0.0049","%40,EER=0.0051"],"range":[[1,0],[7,4],[2,2.5],[8,3,2,3]]},"legend":{"title":null}}}},
{"width":206,"height":146,"title":{"text":"(h) ILNIQE2","dx":-38},"transform":[{"filter":"datum.p=='h'||datum.p=='all'"}],"mark":{"type":"line","clip":true,"strokeWidth":1.7},"encoding":{"x":{"field":"x","type":"quantitative","title":"FMR","scale":{"domain":[0,0.05],"nice":false},"axis":{"values":[0,0.02,0.04],"format":"~g"}},"y":{"field":"y","type":"quantitative","title":"FNMR","scale":{"domain":[0,0.05],"nice":false},"axis":{"values":[0,0.02,0.04],"format":"~g"}},"color":{"field":"s","type":"nominal","scale":{"domain":["Ori,EER=0.0085","%80,EER=0.0041","%60,EER=0.0032","%40,EER=0.0030"],"range":["#ff0000","#ff00ff","#0000ff","#00ee00"]},"legend":{"title":null}},"strokeDash":{"field":"s","type":"nominal","scale":{"domain":["Ori,EER=0.0085","%80,EER=0.0041","%60,EER=0.0032","%40,EER=0.0030"],"range":[[1,0],[7,4],[2,2.5],[8,3,2,3]]},"legend":{"title":null}}}},
{"width":206,"height":146,"title":{"text":"(i) JNBM","dx":-49},"transform":[{"filter":"datum.p=='i'||datum.p=='all'"}],"mark":{"type":"line","clip":true,"strokeWidth":1.7},"encoding":{"x":{"field":"x","type":"quantitative","title":"FMR","scale":{"domain":[0,0.05],"nice":false},"axis":{"values":[0,0.02,0.04],"format":"~g"}},"y":{"field":"y","type":"quantitative","title":"FNMR","scale":{"domain":[0,0.05],"nice":false},"axis":{"values":[0,0.02,0.04],"format":"~g"}},"color":{"field":"s","type":"nominal","scale":{"domain":["Ori,EER=0.0085","%80,EER=0.0078","%60,EER=0.0106","%40,EER=0.0124"],"range":["#ff0000","#ff00ff","#0000ff","#00ee00"]},"legend":{"title":null}},"strokeDash":{"field":"s","type":"nominal","scale":{"domain":["Ori,EER=0.0085","%80,EER=0.0078","%60,EER=0.0106","%40,EER=0.0124"],"range":[[1,0],[7,4],[2,2.5],[8,3,2,3]]},"legend":{"title":null}}}}
],"spacing":118,"bounds":"flush","resolve":{"scale":{"color":"independent","strokeDash":"independent"},"legend":{"color":"independent","strokeDash":"independent"}}},
{"hconcat":[
{"width":206,"height":146,"title":{"text":"(j) PWN","dx":-35},"transform":[{"filter":"datum.p=='j'||datum.p=='all'"}],"mark":{"type":"line","clip":true,"strokeWidth":1.7},"encoding":{"x":{"field":"x","type":"quantitative","title":"FMR","scale":{"domain":[0,0.05],"nice":false},"axis":{"values":[0,0.02,0.04],"format":"~g"}},"y":{"field":"y","type":"quantitative","title":"FNMR","scale":{"domain":[0,0.05],"nice":false},"axis":{"values":[0,0.02,0.04],"format":"~g"}},"color":{"field":"s","type":"nominal","scale":{"domain":["Ori,EER=0.0085","%80,EER=0.0054","%60,EER=0.0060","%40,EER=0.0076"],"range":["#ff0000","#ff00ff","#0000ff","#00ee00"]},"legend":{"title":null}},"strokeDash":{"field":"s","type":"nominal","scale":{"domain":["Ori,EER=0.0085","%80,EER=0.0054","%60,EER=0.0060","%40,EER=0.0076"],"range":[[1,0],[7,4],[2,2.5],[8,3,2,3]]},"legend":{"title":null}}}},
{"width":206,"height":146,"title":{"text":"(k) SH","dx":-40},"transform":[{"filter":"datum.p=='k'||datum.p=='all'"}],"mark":{"type":"line","clip":true,"strokeWidth":1.7},"encoding":{"x":{"field":"x","type":"quantitative","title":"FMR","scale":{"domain":[0,0.05],"nice":false},"axis":{"values":[0,0.02,0.04],"format":"~g"}},"y":{"field":"y","type":"quantitative","title":"FNMR","scale":{"domain":[0,0.05],"nice":false},"axis":{"values":[0,0.02,0.04],"format":"~g"}},"color":{"field":"s","type":"nominal","scale":{"domain":["Ori,EER=0.0085","%80,EER=0.0074","%60,EER=0.0101","%40,EER=0.0139"],"range":["#ff0000","#ff00ff","#0000ff","#00ee00"]},"legend":{"title":null}},"strokeDash":{"field":"s","type":"nominal","scale":{"domain":["Ori,EER=0.0085","%80,EER=0.0074","%60,EER=0.0101","%40,EER=0.0139"],"range":[[1,0],[7,4],[2,2.5],[8,3,2,3]]},"legend":{"title":null}}}},
{"width":206,"height":146,"title":{"text":"(l) SSEQ","dx":-43},"transform":[{"filter":"datum.p=='l'||datum.p=='all'"}],"mark":{"type":"line","clip":true,"strokeWidth":1.7},"encoding":{"x":{"field":"x","type":"quantitative","title":"FMR","scale":{"domain":[0,0.05],"nice":false},"axis":{"values":[0,0.02,0.04],"format":"~g"}},"y":{"field":"y","type":"quantitative","title":"FNMR","scale":{"domain":[0,0.05],"nice":false},"axis":{"values":[0,0.02,0.04],"format":"~g"}},"color":{"field":"s","type":"nominal","scale":{"domain":["Ori,EER=0.0085","%80,EER=0.0071","%60,EER=0.0089","%40,EER=0.0110"],"range":["#ff0000","#ff00ff","#0000ff","#00ee00"]},"legend":{"title":null}},"strokeDash":{"field":"s","type":"nominal","scale":{"domain":["Ori,EER=0.0085","%80,EER=0.0071","%60,EER=0.0089","%40,EER=0.0110"],"range":[[1,0],[7,4],[2,2.5],[8,3,2,3]]},"legend":{"title":null}}}}
],"spacing":118,"bounds":"flush","resolve":{"scale":{"color":"independent","strokeDash":"independent"},"legend":{"color":"independent","strokeDash":"independent"}}},
{"hconcat":[
{"width":206,"height":146,"title":{"text":"(m) CONTRAST2","dx":-35},"transform":[{"filter":"datum.p=='m'||datum.p=='all'"}],"mark":{"type":"line","clip":true,"strokeWidth":1.7},"encoding":{"x":{"field":"x","type":"quantitative","title":"FMR","scale":{"domain":[0,0.05],"nice":false},"axis":{"values":[0,0.02,0.04],"format":"~g"}},"y":{"field":"y","type":"quantitative","title":"FNMR","scale":{"domain":[0,0.05],"nice":false},"axis":{"values":[0,0.02,0.04],"format":"~g"}},"color":{"field":"s","type":"nominal","scale":{"domain":["Ori,EER=0.0085","%80,EER=0.0072","%60,EER=0.0087","%40,EER=0.0124"],"range":["#ff0000","#ff00ff","#0000ff","#00ee00"]},"legend":{"title":null}},"strokeDash":{"field":"s","type":"nominal","scale":{"domain":["Ori,EER=0.0085","%80,EER=0.0072","%60,EER=0.0087","%40,EER=0.0124"],"range":[[1,0],[7,4],[2,2.5],[8,3,2,3]]},"legend":{"title":null}}}},
{"width":206,"height":146,"title":{"text":"(n) dipIQ","dx":-50},"transform":[{"filter":"datum.p=='n'||datum.p=='all'"}],"mark":{"type":"line","clip":true,"strokeWidth":1.7},"encoding":{"x":{"field":"x","type":"quantitative","title":"FMR","scale":{"domain":[0,0.05],"nice":false},"axis":{"values":[0,0.02,0.04],"format":"~g"}},"y":{"field":"y","type":"quantitative","title":"FNMR","scale":{"domain":[0,0.05],"nice":false},"axis":{"values":[0,0.02,0.04],"format":"~g"}},"color":{"field":"s","type":"nominal","scale":{"domain":["Ori,EER=0.0085","%80,EER=0.0059","%60,EER=0.0036","%40,EER=0.0030"],"range":["#ff0000","#ff00ff","#0000ff","#00ee00"]},"legend":{"title":null}},"strokeDash":{"field":"s","type":"nominal","scale":{"domain":["Ori,EER=0.0085","%80,EER=0.0059","%60,EER=0.0036","%40,EER=0.0030"],"range":[[1,0],[7,4],[2,2.5],[8,3,2,3]]},"legend":{"title":null}}}},
{"width":206,"height":146,"title":{"text":"(o) JPEG","dx":-49},"transform":[{"filter":"datum.p=='o'||datum.p=='all'"}],"mark":{"type":"line","clip":true,"strokeWidth":1.7},"encoding":{"x":{"field":"x","type":"quantitative","title":"FMR","scale":{"domain":[0,0.05],"nice":false},"axis":{"values":[0,0.02,0.04],"format":"~g"}},"y":{"field":"y","type":"quantitative","title":"FNMR","scale":{"domain":[0,0.05],"nice":false},"axis":{"values":[0,0.02,0.04],"format":"~g"}},"color":{"field":"s","type":"nominal","scale":{"domain":["Ori,EER=0.0085","%80,EER=0.0076","%60,EER=0.0092","%40,EER=0.0143"],"range":["#ff0000","#ff00ff","#0000ff","#00ee00"]},"legend":{"title":null}},"strokeDash":{"field":"s","type":"nominal","scale":{"domain":["Ori,EER=0.0085","%80,EER=0.0076","%60,EER=0.0092","%40,EER=0.0143"],"range":[[1,0],[7,4],[2,2.5],[8,3,2,3]]},"legend":{"title":null}}}}
],"spacing":106,"bounds":"flush","resolve":{"scale":{"color":"independent","strokeDash":"independent"},"legend":{"color":"independent","strokeDash":"independent"}}}
],
"config":{
"view":{"stroke":"#e3e3e3"},
"font":"Liberation Sans",
"axis":{"labelFont":"Liberation Sans","labelFontSize":17,"labelFontWeight":"bold","labelColor":"#262626","labelFlush":false,"titleFont":"Liberation Sans","titleFontSize":21,"titleFontWeight":"bold","titleColor":"#262626","domainColor":"#4d4d4d","domainWidth":1.2,"ticks":false,"gridColor":"#e3e3e3","gridWidth":1},
"axisX":{"labelPadding":11,"titlePadding":2},
"axisY":{"labelPadding":5,"titlePadding":4},
"legend":{"orient":"top-right","offset":1,"fillColor":"white","strokeColor":"#262626","padding":3,"rowPadding":4,"labelFont":"Liberation Sans","labelFontSize":16,"labelFontWeight":"bold","labelColor":"black","symbolType":"stroke","symbolSize":100,"symbolStrokeWidth":2,"labelOffset":2,"labelLimit":300,"cornerRadius":0},
"title":{"orient":"bottom","frame":"group","anchor":"middle","font":"Liberation Serif","fontSize":28,"fontWeight":"normal","color":"black","offset":13}
}
}
